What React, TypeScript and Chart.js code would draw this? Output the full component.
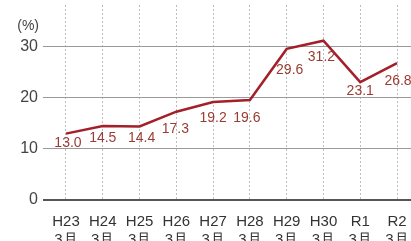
import React, { useEffect, useRef } from "react";
import { Chart, registerables } from "chart.js";

Chart.register(...registerables);

const CATEGORIES = ["H23", "H24", "H25", "H26", "H27", "H28", "H29", "H30", "R1", "R2"];
const MONTH_LABEL = "3月";
const VALUES = [13.0, 14.5, 14.4, 17.3, 19.2, 19.6, 29.6, 31.2, 23.1, 26.8];
const Y_TICKS = [0, 10, 20, 30];
const UNIT_LABEL = "(%)";

// label placement relative to each point (style config)
const LABEL_DX = [2, 0, 2, -1, 0, -3, 3, -2, 0, 1];
const LABEL_DY = [10, 12, 12, 17, 16, 18, 21, 16, 9, 18];

const FONT = "'Liberation Sans Narrow', 'Liberation Sans', Arial, sans-serif";
const LINE_COLOR = "#a31f2a";
const LABEL_COLOR = "#9a3c32";

const overlayPlugin = {
  id: "overlay",
  afterDatasetsDraw(chart: any) {
    const ctx = chart.ctx;
    const meta = chart.getDatasetMeta(0);
    ctx.save();
    ctx.font = `14px ${FONT}`;
    ctx.fillStyle = LABEL_COLOR;
    ctx.textAlign = "center";
    ctx.textBaseline = "middle";
    meta.data.forEach((pt: any, i: number) => {
      ctx.fillText(VALUES[i].toFixed(1), pt.x + LABEL_DX[i], pt.y + LABEL_DY[i]);
    });
    ctx.font = `14px ${FONT}`;
    ctx.fillStyle = "#444";
    ctx.textAlign = "right";
    ctx.fillText(UNIT_LABEL, 39, 26);
    ctx.restore();
  },
};

export default function App() {
  const ref = useRef<HTMLCanvasElement | null>(null);
  useEffect(() => {
    if (!ref.current) return;
    const chart = new Chart(ref.current, {
      type: "line",
      data: {
        datasets: [
          {
            data: VALUES.map((v, i) => ({ x: i, y: v })),
            borderColor: LINE_COLOR,
            borderWidth: 2.5,
            pointRadius: 0,
            tension: 0,
            fill: false,
          },
        ],
      },
      options: {
        animation: false,
        responsive: false,
        maintainAspectRatio: false,
        layout: { padding: { top: 5, right: 0, left: 0, bottom: 0 } },
        plugins: { legend: { display: false }, tooltip: { enabled: false } },
        scales: {
          x: {
            type: "linear",
            min: -0.625,
            max: 9.38,
            afterBuildTicks: (s: any) => {
              s.ticks = CATEGORIES.map((_, i) => ({ value: i }));
            },
            afterFit: (s: any) => {
              s.height = 41;
              s.paddingLeft = 0;
              s.paddingRight = 0;
            },
            ticks: {
              autoSkip: false,
              maxRotation: 0,
              padding: 13,
              color: "#333",
              font: { family: FONT, size: 15, lineHeight: 1.2 },
              callback: (v: any) => [CATEGORIES[Math.round(Number(v))], MONTH_LABEL],
            },
            grid: { color: "#bdbdbd", lineWidth: 1, drawTicks: false },
            border: { display: false, dash: [2, 2] },
          },
          y: {
            type: "linear",
            min: 0,
            max: 38.2,
            afterBuildTicks: (s: any) => {
              s.ticks = Y_TICKS.map((v) => ({ value: v }));
            },
            afterFit: (s: any) => {
              s.width = 43;
              s.paddingTop = 0;
              s.paddingBottom = 0;
            },
            ticks: {
              padding: 5,
              color: "#444",
              font: { family: "'Liberation Sans', Arial, sans-serif", size: 16 },
            },
            grid: {
              drawTicks: false,
              color: (c: any) => (c.tick && c.tick.value === 0 ? "#555" : "#9a9a9a"),
              lineWidth: (c: any) => (c.tick && c.tick.value === 0 ? 2 : 1),
            },
            border: { display: false },
          },
        },
      },
      plugins: [overlayPlugin],
    } as any);
    return () => chart.destroy();
  }, []);
  return (
    <div style={{ position: "fixed", left: 0, top: 0, width: 411, height: 241, background: "#fff" }}>
      <canvas ref={ref} width={411} height={241} style={{ width: 411, height: 241 }} />
    </div>
  );
}
